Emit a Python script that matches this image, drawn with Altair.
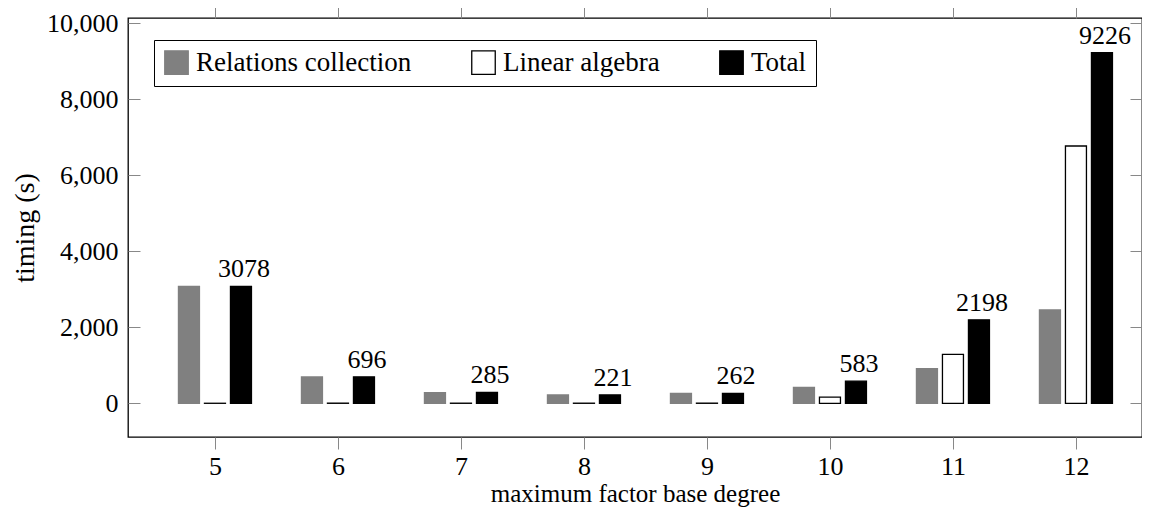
import altair as alt
import pandas as pd

degrees = [5, 6, 7, 8, 9, 10, 11, 12]
relations = [3077, 692, 282, 218, 258, 418, 910, 2455]
linear = [1, 4, 3, 3, 4, 165, 1288, 6771]
totals = [3078, 696, 285, 221, 262, 583, 2198, 9226]
series_names = ["Relations collection", "Linear algebra", "Total"]
y_ticks = [0, 2000, 4000, 6000, 8000, 10000]

rows = []
for i, d in enumerate(degrees):
    for k, vals in enumerate([relations, linear, totals]):
        rows.append({"degree": d, "series": series_names[k], "idx": k, "value": vals[i]})
df = pd.DataFrame(rows)
tot_df = pd.DataFrame({"degree": degrees, "total": totals})

FONT = "Liberation Serif"
FS = 26
xdom = [4.293, 12.537]
ydom = [-887, 10140]
OFF = 0.2114

xscale = alt.Scale(domain=xdom, nice=False, zero=False, padding=0)
yscale = alt.Scale(domain=ydom, nice=False, zero=False, padding=0)
fill_scale = alt.Scale(domain=series_names, range=["#808080", "#ffffff", "#000000"])
stroke_scale = alt.Scale(domain=series_names, range=["#808080", "#000000", "#000000"])

legend = alt.Legend(
    title=None, orient="none", legendX=26, legendY=22, direction="horizontal",
    symbolType="square", symbolSize=552, symbolStrokeWidth=1.3, symbolOpacity=1,
    labelFont=FONT, labelFontSize=27, labelOffset=6, labelLimit=400,
    columnPadding=57, padding=9, strokeColor="black", fillColor="white",
    labelColor="black",
)

x_axis = alt.Axis(orient="bottom", values=degrees, format="d",
                  title="maximum factor base degree", tickSize=12,
                  labelPadding=4, titlePadding=2, titleFontSize=25)
y_axis = alt.Axis(orient="left", values=y_ticks, format=",d",
                  title="timing (s)", tickSize=12, offset=-12,
                  labelPadding=10, titlePadding=7, titleFontSize=28)

bars = alt.Chart(df).transform_calculate(
    xpos=f"datum.degree + (datum.idx - 1) * {OFF}"
).mark_bar(orient="vertical", size=21, strokeWidth=1.3).encode(
    x=alt.X("xpos:Q", scale=xscale, axis=x_axis),
    y=alt.Y("value:Q", scale=yscale, axis=y_axis),
    fill=alt.Fill("series:N", scale=fill_scale, legend=legend),
    stroke=alt.Stroke("series:N", scale=stroke_scale, legend=legend),
)

labels = alt.Chart(tot_df).transform_calculate(
    xpos=f"datum.degree + {OFF}"
).mark_text(baseline="alphabetic", dy=-9, dx=3, font=FONT, fontSize=FS, color="black").encode(
    x=alt.X("xpos:Q", scale=xscale, axis=x_axis),
    y=alt.Y("total:Q", scale=yscale, axis=y_axis),
    text=alt.Text("total:Q", format="d"),
)

axes = alt.Chart(tot_df).mark_point(opacity=0).encode(
    x=alt.X("degree:Q", scale=xscale,
            axis=alt.Axis(orient="top", values=degrees, labels=False, title=None,
                          tickSize=12)),
    y=alt.Y("total:Q", scale=yscale,
            axis=alt.Axis(orient="right", values=y_ticks, labels=False, title=None,
                          tickSize=12, offset=-12)),
)

chart = alt.layer(alt.layer(bars, labels), axes).resolve_scale(
    x="independent", y="independent"
).properties(
    width=1014, height=419,
    autosize=alt.AutoSizeParams(type="none"),
    padding={"left": 120, "top": 10, "right": 0, "bottom": 70},
).configure_view(
    stroke="black", strokeWidth=1.3
).configure_axis(
    labelFont=FONT, titleFont=FONT, labelFontSize=FS, titleFontSize=FS,
    titleFontWeight="normal", labelColor="black", titleColor="black",
    grid=False, domain=False, tickColor="#888", tickWidth=1,
)

chart.save("out.html", embed_options={"renderer": "svg", "actions": False})
